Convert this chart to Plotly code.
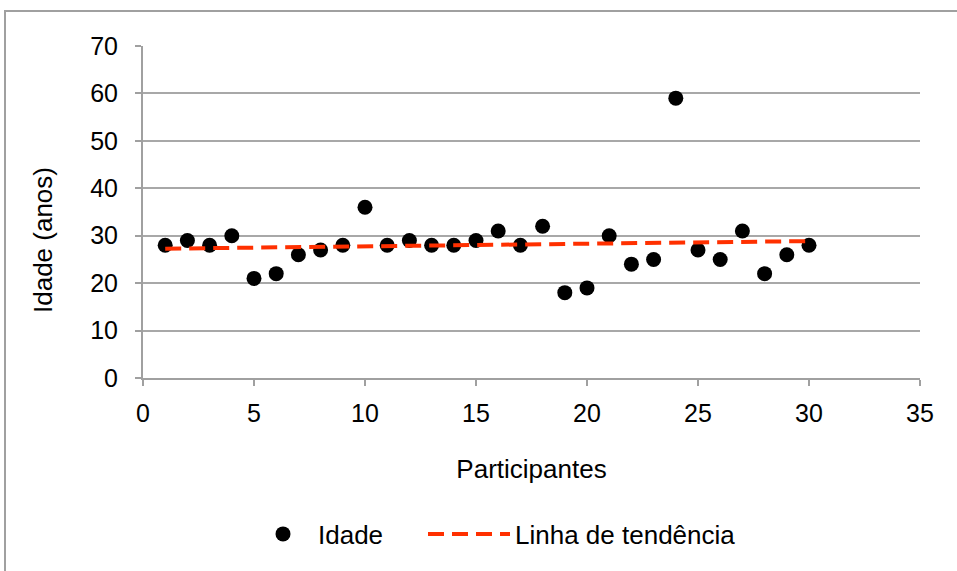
import numpy as np
import plotly.graph_objects as go

participantes = list(range(1, 31))
idade = [28, 29, 28, 30, 21, 22, 26, 27, 28, 36,
         28, 29, 28, 28, 29, 31, 28, 32, 18, 19,
         30, 24, 25, 59, 27, 25, 31, 22, 26, 28]

x_ticks = [0, 5, 10, 15, 20, 25, 30, 35]
y_ticks = [0, 10, 20, 30, 40, 50, 60, 70]

# Linear trendline fitted to the data
slope, intercept = np.polyfit(participantes, idade, 1)
trend_x = [participantes[0], participantes[-1]]
trend_y = [slope * v + intercept for v in trend_x]

font = "Liberation Sans, Arial, sans-serif"
FS = 25

L, R, T, B = 143, 37, 46, 193
W, H = 957, 571
pw, ph = W - L - R, H - T - B

def px_x(p):
    return (p - L) / pw

def px_y(p):
    return (T + ph - p) / ph

fig = go.Figure()
fig.add_trace(go.Scatter(
    x=participantes, y=idade, mode="markers", name="Idade",
    marker=dict(color="black", size=15), legend="legend",
))
fig.add_trace(go.Scatter(
    x=trend_x, y=trend_y, mode="lines", name="Linha de tendência",
    line=dict(color="#FF3000", width=4, dash="16px,8px"), legend="legend2",
))

fig.update_layout(
    width=W, height=H,
    margin=dict(l=L, r=R, t=T, b=B),
    paper_bgcolor="white", plot_bgcolor="white",
    font=dict(family=font, size=FS, color="black"),
    showlegend=True,
    legend=dict(orientation="h", x=px_x(248), xanchor="left", y=px_y(534), yanchor="middle",
                font=dict(size=26), itemwidth=60, bgcolor="rgba(0,0,0,0)"),
    legend2=dict(orientation="h", x=px_x(423), xanchor="left", y=px_y(534), yanchor="middle",
                 font=dict(size=26), itemwidth=82, bgcolor="rgba(0,0,0,0)"),
    xaxis=dict(range=[0, 35], tickvals=x_ticks, showgrid=False, zeroline=False,
               showline=True, linecolor="#A0A0A0", linewidth=2,
               ticks="outside", ticklen=6, tickcolor="#A0A0A0", tickwidth=2,
               ticklabelstandoff=6,
               title=dict(text="Participantes", standoff=34, font=dict(size=26)),
               tickfont=dict(size=FS)),
    yaxis=dict(range=[0, 70], tickvals=y_ticks, showgrid=True, gridcolor="#A8A8A8",
               gridwidth=2, zeroline=False,
               showline=True, linecolor="#A0A0A0", linewidth=2,
               ticks="outside", ticklen=6, tickcolor="#A0A0A0", tickwidth=2,
               ticklabelstandoff=12,
               tickfont=dict(size=FS)),
    annotations=[dict(text="Idade (anos)", textangle=-90, showarrow=False,
                      xref="paper", yref="paper", x=px_x(43), y=px_y(240),
                      xanchor="center", yanchor="middle", font=dict(size=26))],
)

# outer frame
fig.add_shape(type="rect", xref="paper", yref="paper",
              x0=px_x(5), x1=px_x(W + 5),
              y0=px_y(H + 5), y1=px_y(11),
              line=dict(color="#A0A0A0", width=2), fillcolor="rgba(0,0,0,0)", layer="below")

fig.write_html("out.html")
